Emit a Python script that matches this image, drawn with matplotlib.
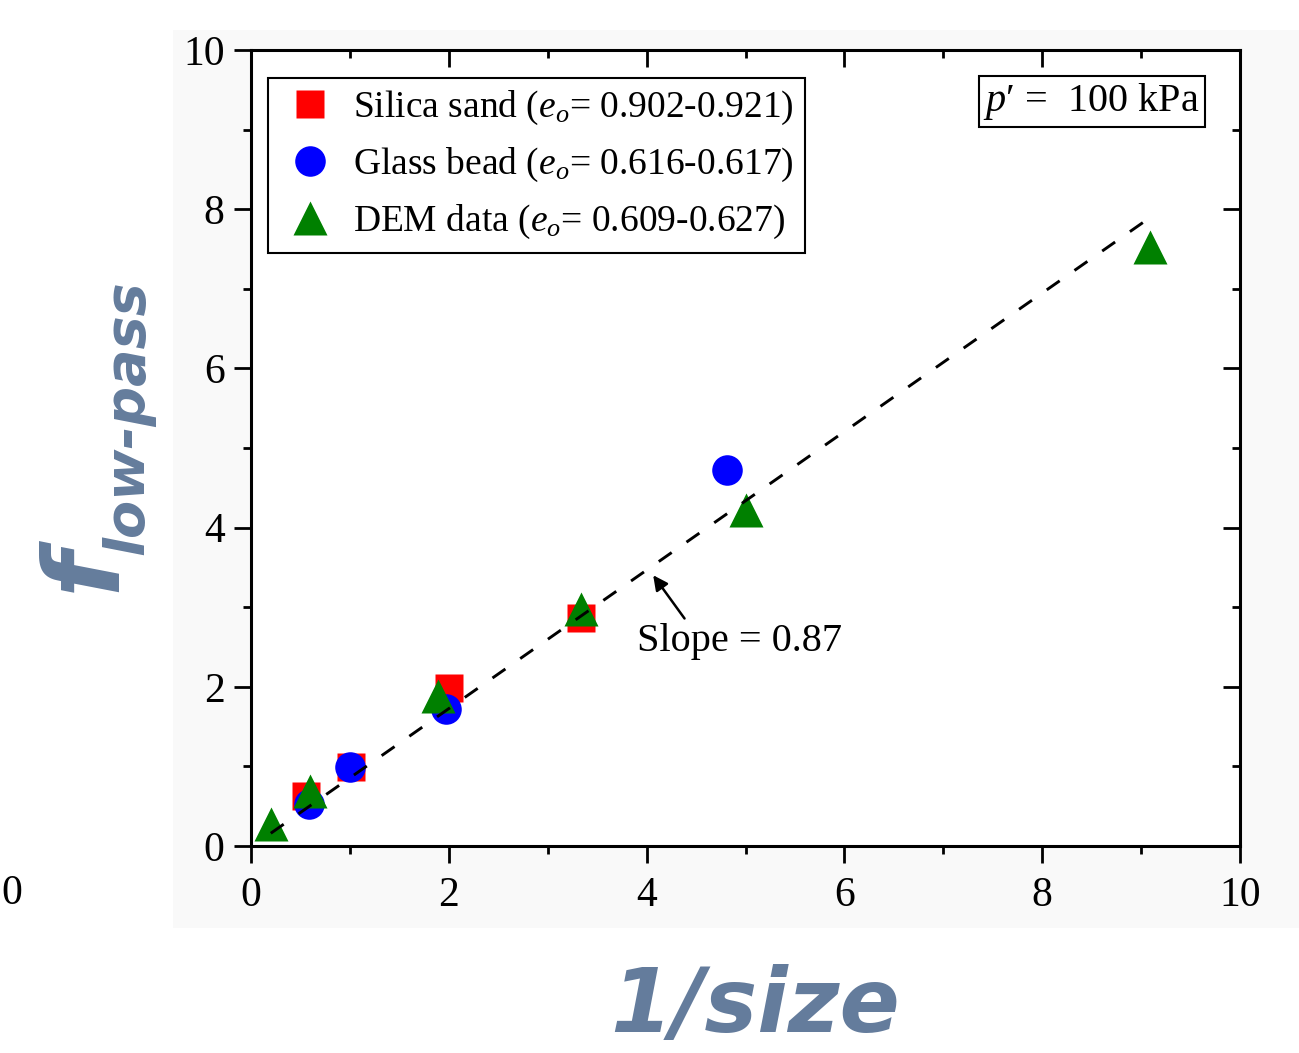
import matplotlib
matplotlib.use('Agg')  # no display in the sandbox
import matplotlib.pyplot as plt
from matplotlib.patches import Rectangle
from matplotlib.ticker import MultipleLocator

# --- data ---
sand_x = [0.56, 1.01, 2.00, 3.34]
sand_y = [0.63, 0.99, 1.99, 2.87]

bead_x = [0.59, 1.00, 1.97, 4.81]
bead_y = [0.53, 0.99, 1.72, 4.72]

dem_x = [0.20, 0.60, 1.89, 3.34, 5.00, 9.09]
dem_y = [0.28, 0.69, 1.88, 2.98, 4.22, 7.52]

# linear fit drawn as dashed line (slope 0.87)
fit_x = [0.20, 9.05]
fit_y = [0.16, 7.86]

labels = [
    r'Silica sand ($e_o$= 0.902-0.921)',
    r'Glass bead ($e_o$= 0.616-0.617)',
    r'DEM data ($e_o$= 0.609-0.627)',
]

SERIF = 'Liberation Serif'
LABEL_COLOR = '#647c9c'
W, H = 1299, 1053

plt.rcParams['font.family'] = SERIF
plt.rcParams['mathtext.fontset'] = 'custom'
plt.rcParams['mathtext.rm'] = SERIF
plt.rcParams['mathtext.it'] = SERIF + ':italic'


def px(x, y):
    """Pixel position (from top-left) -> figure fraction."""
    return x / W, 1 - y / H


fig = plt.figure(figsize=(W / 100, H / 100), dpi=100)
fig.patch.set_facecolor('white')

# faint grey panel behind the inner plot
x0, y0 = px(173, 928)
fig.add_artist(Rectangle((x0, y0), 1 - x0, (928 - 30) / H, transform=fig.transFigure,
                         facecolor='#f9f9f9', edgecolor='none', zorder=0))

l, b = px(251, 846)
r, t = px(1240, 50)
ax = fig.add_axes([l, b, r - l, t - b])
ax.set_facecolor('white')

ax.plot(sand_x, sand_y, 's', color='red', ms=20, mec='none', label=labels[0], zorder=3)
ax.plot(bead_x, bead_y, 'o', color='blue', ms=22, mec='none', label=labels[1], zorder=4)
ax.plot(dem_x, dem_y, '^', color='green', ms=25, mec='none', label=labels[2], zorder=5)
ax.plot(fit_x, fit_y, color='black', lw=2.1, dashes=(5.4, 6.2), zorder=6)

ax.set_xlim(0, 10)
ax.set_ylim(0, 10)

for side in ['left', 'right', 'top', 'bottom']:
    ax.spines[side].set_linewidth(2.2)

ax.xaxis.set_major_locator(MultipleLocator(2))
ax.xaxis.set_minor_locator(MultipleLocator(1))
ax.yaxis.set_major_locator(MultipleLocator(2))
ax.yaxis.set_minor_locator(MultipleLocator(1))
ax.tick_params(which='major', direction='out', length=12, width=2, labelsize=30)
ax.tick_params(which='minor', direction='out', length=6, width=2)
ax.tick_params(axis='x', which='major', pad=10)
ax.tick_params(axis='y', which='major', pad=7)

# mirrored ticks on top and right point inwards
top = ax.secondary_xaxis('top')
right = ax.secondary_yaxis('right')
for sec in (top, right):
    sec.tick_params(which='major', direction='in', length=12, width=2, labelsize=0)
    sec.tick_params(which='minor', direction='in', length=6, width=2)
    sec.spines[:].set_linewidth(0)
top.xaxis.set_major_locator(MultipleLocator(2))
top.xaxis.set_minor_locator(MultipleLocator(1))
right.yaxis.set_major_locator(MultipleLocator(2))
right.yaxis.set_minor_locator(MultipleLocator(1))
top.set_xticklabels([])
right.set_yticklabels([])

leg = ax.legend(loc='upper left', bbox_to_anchor=(0.017, 0.965), fontsize=27,
                frameon=True, fancybox=False, edgecolor='black', framealpha=1,
                handlelength=1.65, handletextpad=0.32, borderpad=0.3,
                labelspacing=0.5, borderaxespad=0, markerscale=1.0)
leg.get_frame().set_linewidth(1.5)

ax.text(8.50, 9.35, r"$\mathit{p}$′ =  100 kPa", fontsize=29, ha='center', va='center',
        bbox=dict(boxstyle='square,pad=0.12', facecolor='white', edgecolor='black', lw=1.5))

# slope annotation
ax.annotate('', xy=(4.05, 3.43), xytext=(4.40, 2.83),
            arrowprops=dict(arrowstyle='-|>', color='black', lw=1.8, mutation_scale=22))
ax.text(4.94, 2.57, 'Slope = 0.87', fontsize=29, ha='center', va='center')

# big outer axis labels
fx, fy = px(86, 569)
fig.text(fx, fy, 'f', rotation=90, fontsize=76, color=LABEL_COLOR, family='DejaVu Sans',
         weight='bold', style='oblique', ha='center', va='center')
sx, sy = px(128, 418)
fig.text(sx, sy, 'low-pass', rotation=90, fontsize=40, color=LABEL_COLOR, family='DejaVu Sans',
         weight='bold', style='oblique', ha='center', va='center')
lx, ly = px(755, 1007)
fig.text(lx, ly, '1/size', fontsize=64, color=LABEL_COLOR, family='DejaVu Sans',
         weight='bold', style='oblique', ha='center', va='center')

# stray tick label at the left edge
zx, zy = px(12, 894)
fig.text(zx, zy, '0', fontsize=30, ha='center', va='center')

fig.savefig('out.png', dpi=100)
